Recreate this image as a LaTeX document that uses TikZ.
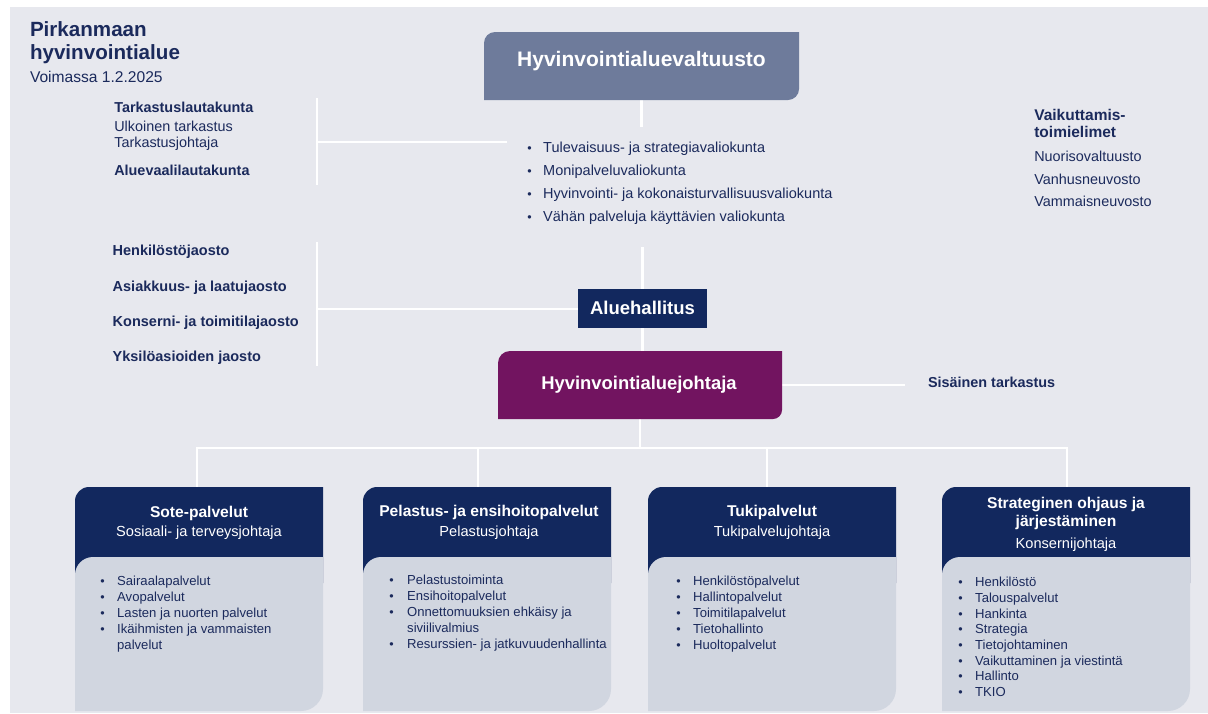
\documentclass[tikz,border=0pt]{standalone}
\usepackage{fontspec}
\setmainfont{Liberation Sans}
\usetikzlibrary{calc}
\definecolor{bgc}{HTML}{E7E8EE}
\definecolor{navy}{HTML}{12285E}
\definecolor{valtc}{HTML}{6E7B9B}
\definecolor{purp}{HTML}{721460}
\definecolor{bodyc}{HTML}{D1D6E0}
\definecolor{txt}{HTML}{1B2A5C}
\newcommand{\bl}[1]{\makebox[#1][l]{{\fontsize{12.5}{12}\selectfont •}}}
\newcommand{\rboxfill}[4]{%
  \fill[#1] (#2.south west) -- ($(#2.north west)+(0,#3)$) arc[start angle=180,end angle=270,radius=#3]
    -- (#2.north east) -- ($(#2.south east)+(0,-#4)$) arc[start angle=0,end angle=90,radius=#4] -- cycle;}
\newcommand{\hdrfill}[1]{%
  \fill[navy] ($(#1.south west)+(0,26)$) -- ($(#1.north west)+(0,14)$) arc[start angle=180,end angle=270,radius=14]
    -- (#1.north east) -- ($(#1.south east)+(0,26)$) -- cycle;}
\begin{document}
\begin{tikzpicture}[x=1pt,y=-1pt,
  lbl/.style={inner sep=0, outer sep=0, text=txt, anchor=base west},
  bfl/.style={lbl, font=\bfseries\fontsize{14.4}{17}\selectfont},
  rgl/.style={lbl, font=\fontsize{14.4}{17}\selectfont},
  shp/.style={inner sep=0, outer sep=0, draw=none, rectangle},
  conn/.style={draw=white, line width=2.8pt},
  bigt/.style={inner sep=0, text=white, anchor=base, font=\bfseries\fontsize{21}{25}\selectfont},
  hdt/.style={inner sep=0, text=white, anchor=base, font=\bfseries\fontsize{15.6}{19}\selectfont},
  hds/.style={inner sep=0, text=white, anchor=base, font=\fontsize{14.6}{18}\selectfont},
  lst/.style={inner sep=0, text=txt, anchor=base west, font=\fontsize{13.1}{16}\selectfont}]
\useasboundingbox (0,0) rectangle (1208,713);
\fill[bgc] (10,7) rectangle (1208,713);

% title
\node[lbl, font=\bfseries\fontsize{20.6}{24}\selectfont] (t1) at (30,36.5) {Pirkanmaan};
\node[lbl, font=\bfseries\fontsize{20.6}{24}\selectfont] (t2) at (30,59) {hyvinvointialue};
\node[lbl, font=\fontsize{15.6}{18}\selectfont] (t3) at (30,82.5) {Voimassa 1.2.2025};

% shapes (named)
\node[shp, minimum width=315, minimum height=68] (valt) at (641.5,66) {};
\node[shp, minimum width=129, minimum height=39] (alue) at (642.5,308.5) {};
\node[shp, minimum width=284, minimum height=68] (joht) at (640,385) {};
\node[shp, minimum width=248, minimum height=70] (s1h) at (199,522) {};
\node[shp, minimum width=248, minimum height=154] (s1b) at (199,634) {};
\node[shp, minimum width=248, minimum height=70] (s2h) at (487,522) {};
\node[shp, minimum width=248, minimum height=154] (s2b) at (487,634) {};
\node[shp, minimum width=248, minimum height=70] (s3h) at (772,522) {};
\node[shp, minimum width=248, minimum height=154] (s3b) at (772,634) {};
\node[shp, minimum width=248, minimum height=70] (s4h) at (1066,522) {};
\node[shp, minimum width=248, minimum height=154] (s4b) at (1066,634) {};

% connectors
\coordinate (vend) at (642,127);
\coordinate (lt1) at (317,98);
\coordinate (lb1) at (317,185);
\coordinate (lm1) at (317,142);
\coordinate (le1) at (507,142);
\coordinate (astart) at (642,247);
\coordinate (lt2) at (317,242);
\coordinate (lb2) at (317,366);
\coordinate (lm2) at (317,309);
\coordinate (sisend) at (905,385);
\coordinate (d1) at (197,448);
\coordinate (d2) at (478,448);
\coordinate (d3) at (767,448);
\coordinate (d4) at (1067,448);
\draw[conn] (valt.south) -- (valt.south |- vend);
\draw[conn] (lt1) -- (lb1);
\draw[conn] (lm1) -- (le1);
\draw[conn] (alue.north |- astart) -- (alue.north);
\draw[conn] (lt2) -- (lb2);
\draw[conn] (lm2) -- (lm2 -| alue.west);
\draw[conn] (alue.south) -- (alue.south |- joht.north);
\draw[conn] (joht.east) -- (sisend);
\draw[conn] (joht.south) -- (joht.south |- d1);
\draw[conn, line join=miter] (d1 |- s1h.north) -- (d1) -- (d4) -- (d4 |- s4h.north);
\draw[conn] (d2) -- (d2 |- s2h.north);
\draw[conn] (d3) -- (d3 |- s3h.north);

% box fills
\rboxfill{valtc}{valt}{11}{11}
\fill[navy] (alue.south west) rectangle (alue.north east);
\rboxfill{purp}{joht}{12}{9}
\hdrfill{s1h}\rboxfill{bodyc}{s1b}{18}{22}
\hdrfill{s2h}\rboxfill{bodyc}{s2b}{18}{22}
\hdrfill{s3h}\rboxfill{bodyc}{s3b}{18}{22}
\hdrfill{s4h}\rboxfill{bodyc}{s4b}{18}{22}

% box texts
\node[bigt] (valtt) at (641.5,66.5) {Hyvinvointialuevaltuusto};
\node[bigt, font=\bfseries\fontsize{18.5}{22}\selectfont] (aluet) at (642.5,314.5) {Aluehallitus};
\node[bigt, font=\bfseries\fontsize{18.4}{22}\selectfont] (johtt) at (639,389.5) {Hyvinvointialuejohtaja};
\node[bfl] (sis) at (928,387.7) {Sisäinen tarkastus};

% left group 1
\node[bfl] (tlk) at (114.3,112.7) {Tarkastuslautakunta};
\node[rgl] (ulk) at (114.3,131.5) {Ulkoinen tarkastus};
\node[rgl] (tjo) at (114.3,147.5) {Tarkastusjohtaja};
\node[bfl] (avl) at (114.3,175) {Aluevaalilautakunta};

% committees list
\node[lst, font=\fontsize{14.5}{23}\selectfont] (vlk) at (527.25,152.7) {\begin{tabular}[t]{@{}l@{}}
\bl{15.75pt}Tulevaisuus- ja strategiavaliokunta\\
\bl{15.75pt}Monipalveluvaliokunta\\
\bl{15.75pt}Hyvinvointi- ja kokonaisturvallisuusvaliokunta\\
\bl{15.75pt}Vähän palveluja käyttävien valiokunta
\end{tabular}};

% right group
\node[lbl, font=\bfseries\fontsize{15.5}{18}\selectfont] (vai) at (1034.3,120) {Vaikuttamis-};
\node[lbl, font=\bfseries\fontsize{15.5}{18}\selectfont] (toi) at (1034.3,137.7) {toimielimet};
\node[rgl] (nuo) at (1034.3,161) {Nuorisovaltuusto};
\node[rgl] (vanh) at (1034.3,184.3) {Vanhusneuvosto};
\node[rgl] (vamm) at (1034.3,206) {Vammaisneuvosto};

% left group 2
\node[bfl, font=\bfseries\fontsize{14.5}{17}\selectfont] (hjo) at (112.7,255) {Henkilöstöjaosto};
\node[bfl, font=\bfseries\fontsize{14.5}{17}\selectfont] (ajo) at (112.7,291) {Asiakkuus- ja laatujaosto};
\node[bfl, font=\bfseries\fontsize{14.5}{17}\selectfont] (kjo) at (112.7,326) {Konserni- ja toimitilajaosto};
\node[bfl, font=\bfseries\fontsize{14.5}{17}\selectfont] (yjo) at (112.7,361) {Yksilöasioiden jaosto};

% bottom box headers
\node[hdt] (h1a) at (199,517) {Sote-palvelut};
\node[hds] (h1b) at (199,536.5) {Sosiaali- ja terveysjohtaja};
\node[hdt] (h2a) at (489,516) {Pelastus- ja ensihoitopalvelut};
\node[hds] (h2b) at (489,536.5) {Pelastusjohtaja};
\node[hdt] (h3a) at (772,516.7) {Tukipalvelut};
\node[hds] (h3b) at (772,536.7) {Tukipalvelujohtaja};
\node[hdt] (h4a) at (1066,508.3) {Strateginen ohjaus ja};
\node[hdt] (h4c) at (1066,526.7) {järjestäminen};
\node[hds] (h4b) at (1066,548.3) {Konsernijohtaja};

% bottom lists
\node[lst] (l1) at (100.25,585.7) {\begin{tabular}[t]{@{}l@{}}
\bl{16.75pt}Sairaalapalvelut\\
\bl{16.75pt}Avopalvelut\\
\bl{16.75pt}Lasten ja nuorten palvelut\\
\bl{16.75pt}Ikäihmisten ja vammaisten\\
\hspace*{16.75pt}palvelut
\end{tabular}};
\node[lst] (l2) at (389.25,584.5) {\begin{tabular}[t]{@{}l@{}}
\bl{17.75pt}Pelastustoiminta\\
\bl{17.75pt}Ensihoitopalvelut\\
\bl{17.75pt}Onnettomuuksien ehkäisy ja\\
\hspace*{17.75pt}siviilivalmius\\
\bl{17.75pt}Resurssien- ja jatkuvuudenhallinta
\end{tabular}};
\node[lst] (l3) at (676.25,585.7) {\begin{tabular}[t]{@{}l@{}}
\bl{16.75pt}Henkilöstöpalvelut\\
\bl{16.75pt}Hallintopalvelut\\
\bl{16.75pt}Toimitilapalvelut\\
\bl{16.75pt}Tietohallinto\\
\bl{16.75pt}Huoltopalvelut
\end{tabular}};
\node[lst, font=\fontsize{13.1}{15.7}\selectfont] (l4) at (958.25,586.7) {\begin{tabular}[t]{@{}l@{}}
\bl{16.75pt}Henkilöstö\\
\bl{16.75pt}Talouspalvelut\\
\bl{16.75pt}Hankinta\\
\bl{16.75pt}Strategia\\
\bl{16.75pt}Tietojohtaminen\\
\bl{16.75pt}Vaikuttaminen ja viestintä\\
\bl{16.75pt}Hallinto\\
\bl{16.75pt}TKIO
\end{tabular}};
\end{tikzpicture}
\end{document}
